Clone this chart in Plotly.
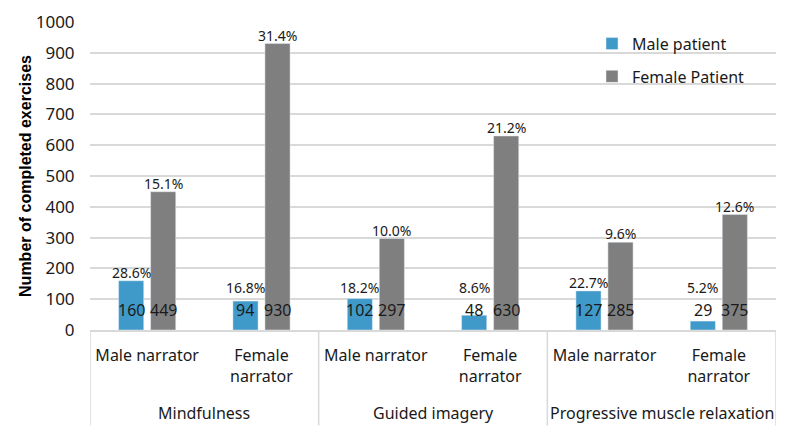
import plotly.graph_objects as go

techniques = ["Mindfulness", "Guided imagery", "Progressive muscle relaxation"]
narrators = ["Male narrator", "Female<br>narrator"]
x_labels = [n for t in techniques for n in narrators]
male_counts = [160, 94, 102, 48, 127, 29]
female_counts = [449, 930, 297, 630, 285, 375]
male_pct = ["28.6%", "16.8%", "18.2%", "8.6%", "22.7%", "5.2%"]
female_pct = ["15.1%", "31.4%", "10.0%", "21.2%", "9.6%", "12.6%"]
y_ticks = list(range(0, 1001, 100))

BLUE = "#409AC9"
GRAY = "#7F7F7F"
GRID = "#D9D9D9"
FONT = "Noto Sans"
TXT = "#1a1a1a"
PCT_FLOOR = 112  # male % labels for short bars sit at a common minimum height

xs = list(range(len(x_labels)))
fig = go.Figure()
fig.add_trace(go.Bar(
    x=xs, y=male_counts, name="Male patient", marker_color=BLUE,
    width=0.22, offset=-0.25, legendgroup="m",
))
fig.add_trace(go.Bar(
    x=xs, y=female_counts, name="Female Patient", marker_color=GRAY,
    width=0.22, offset=0.03, legendgroup="f",
))

annotations = []
for i in xs:
    annotations.append(dict(x=i - 0.14, y=0, xref="x", yref="y", text=str(male_counts[i]),
                            showarrow=False, yanchor="bottom", yshift=7,
                            font=dict(family=FONT, size=16, color=TXT)))
    annotations.append(dict(x=i + 0.14, y=0, xref="x", yref="y", text=str(female_counts[i]),
                            showarrow=False, yanchor="bottom", yshift=7,
                            font=dict(family=FONT, size=16, color=TXT)))
    annotations.append(dict(x=i - 0.14, y=max(male_counts[i], PCT_FLOOR), xref="x", yref="y",
                            text=male_pct[i], showarrow=False, yanchor="bottom", yshift=-3,
                            font=dict(family=FONT, size=14, color=TXT)))
    annotations.append(dict(x=i + 0.14, y=female_counts[i], xref="x", yref="y",
                            text=female_pct[i], showarrow=False, yanchor="bottom", yshift=-3,
                            font=dict(family=FONT, size=14, color=TXT)))
for k, t in enumerate(techniques):
    annotations.append(dict(x=2 * k + 0.5, y=-0.27, xref="x", yref="paper", text=t,
                            showarrow=False, yanchor="middle",
                            font=dict(family=FONT, size=16, color=TXT)))

shapes = []
for k in range(len(techniques) + 1):
    shapes.append(dict(type="line", xref="x", yref="paper", x0=2 * k - 0.5, x1=2 * k - 0.5,
                       y0=0, y1=-0.31, line=dict(color=GRID, width=1.5)))

fig.update_layout(
    width=789, height=430,
    margin=dict(l=82, r=21, t=14, b=108),
    paper_bgcolor="white", plot_bgcolor="white",
    showlegend=True,
    legend=dict(x=0.7318, y=0.985, xanchor="left", yanchor="top",
                bgcolor="rgba(0,0,0,0)", tracegroupgap=9,
                font=dict(family=FONT, size=16, color=TXT)),
    annotations=annotations, shapes=shapes,
    xaxis=dict(range=[-0.5, 5.5], tickmode="array", tickvals=xs, ticktext=x_labels,
               automargin=False,
               showgrid=False, zeroline=False, showline=True, linecolor=GRID, linewidth=1.5,
               ticks="outside", ticklen=10, tickcolor="rgba(0,0,0,0)",
               tickfont=dict(family=FONT, size=16, color=TXT)),
    yaxis=dict(range=[0, 1000], tickvals=y_ticks, showgrid=True, gridcolor=GRID, gridwidth=1.5,
               automargin=False,
               zeroline=False, ticks="outside", ticklen=11, tickcolor="rgba(0,0,0,0)",
               tickfont=dict(family=FONT, size=17, color=TXT),
               title=dict(text="<b>Number of completed exercises</b>", standoff=0,
                          font=dict(family="Liberation Sans", size=16, color="#000000"))),
)

fig.write_html("out.html")
